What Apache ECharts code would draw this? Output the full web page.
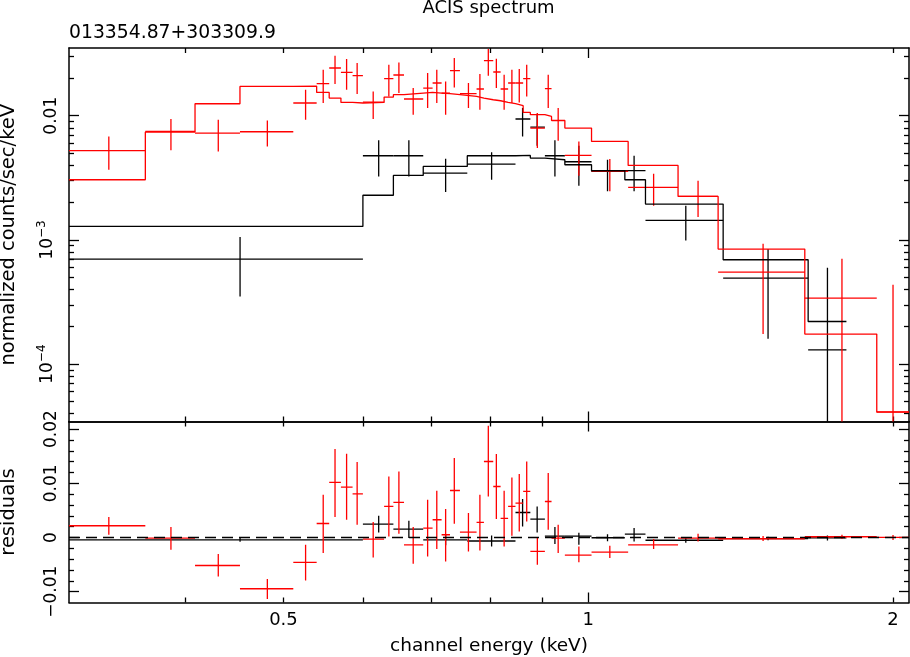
<!DOCTYPE html>
<html>
<head>
<meta charset="utf-8">
<title>ACIS spectrum</title>
<script src="https://cdn.jsdelivr.net/npm/echarts@6/dist/echarts.min.js"></script>
<style>
  html, body { margin: 0; padding: 0; background: #fff; }
  #chart { width: 910px; height: 657px; }
</style>
</head>
<body>
<div id="chart"></div>
<script>
// data group 1 (black): channel bins in keV, rate in counts/sec/keV
const blackE = [0.453, 0.6209, 0.665, 0.723, 0.8027, 0.8613, 0.8903, 0.927, 0.9789, 1.0448, 1.1099, 1.2484, 1.5052, 1.7229];
const blackLo = [0.307, 0.599, 0.642, 0.6871, 0.7595, 0.8475, 0.8766, 0.9061, 0.9482, 1.0075, 1.0868, 1.139, 1.3591, 1.6489];
const blackHi = [0.599, 0.642, 0.6871, 0.7595, 0.8475, 0.8766, 0.9061, 0.9482, 1.0075, 1.0868, 1.139, 1.3591, 1.6489, 1.7989];
const blackRate = [7.01e-4, 4.76e-3, 4.76e-3, 3.455e-3, 4.083e-3, 9.41e-3, 8.08e-3, 4.76e-3, 4.26e-3, 3.56e-3, 3.61e-3, 1.434e-3, 4.93e-4, 1.30e-4];
const blackRateLo = [3.5e-4, 3.24e-3, 3.24e-3, 2.43e-3, 3.05e-3, 6.81e-3, 5.73e-3, 3.24e-3, 2.73e-3, 2.46e-3, 2.46e-3, 9.9e-4, 1.6e-4, 1e-7];
const blackRateHi = [1.054e-3, 6.35e-3, 6.35e-3, 4.5e-3, 5.08e-3, 1.153e-2, 1.038e-2, 6.35e-3, 5.73e-3, 4.42e-3, 4.76e-3, 1.884e-3, 8.44e-4, 5.97e-4];
const blackModel = [1.283e-3, 2.289e-3, 3.304e-3, 3.905e-3, 4.763e-3, 4.79e-3, 4.563e-3, 4.421e-3, 4.03e-3, 3.606e-3, 3.051e-3, 1.944e-3, 6.92e-4, 2.203e-4];
const blackResid = [-4.5e-4, 2.47e-3, 1.55e-3, -4.5e-4, -6.5e-4, 4.61e-3, 3.39e-3, 2.5e-4, 2.3e-4, -5e-5, 6.3e-4, -5.1e-4, -2e-4, -9e-5];
const blackResidLo = [-8e-4, 9.2e-4, -1.1e-4, -1.45e-3, -1.65e-3, 2.03e-3, 9.2e-4, -1.22e-3, -1.35e-3, -7e-4, -7.4e-4, -9.6e-4, -5.3e-4, -5.6e-4];
const blackResidHi = [-1e-4, 4e-3, 3.08e-3, 5.5e-4, 3.5e-4, 7.08e-3, 5.72e-3, 1.92e-3, 8.7e-4, 6e-4, 1.73e-3, -6e-5, 1.3e-4, 3.8e-4];

// data group 2 (red)
const redE = [0.3361, 0.3871, 0.4311, 0.482, 0.5258, 0.5473, 0.5622, 0.5772, 0.5912, 0.6132, 0.6354, 0.6501, 0.6716, 0.694, 0.7086, 0.723, 0.7374, 0.7615, 0.7816, 0.7967, 0.8114, 0.8259, 0.8406, 0.8548, 0.8694, 0.8907, 0.913, 0.9339, 0.9789, 1.0503, 1.1603, 1.2837, 1.4883, 1.7807, 2.0];
const redLo = [0.307, 0.3652, 0.4089, 0.4529, 0.5113, 0.5392, 0.5548, 0.5698, 0.5851, 0.599, 0.6286, 0.642, 0.6577, 0.6871, 0.7019, 0.7164, 0.7302, 0.7469, 0.7757, 0.7888, 0.8057, 0.8193, 0.8334, 0.8475, 0.8624, 0.8766, 0.9061, 0.9199, 0.9482, 1.0075, 1.095, 1.2266, 1.3436, 1.6364, 1.9274];
const redHi = [0.3652, 0.4089, 0.4529, 0.5113, 0.5392, 0.5548, 0.5698, 0.5851, 0.599, 0.6286, 0.642, 0.6577, 0.6871, 0.7019, 0.7164, 0.7302, 0.7469, 0.7757, 0.7888, 0.8057, 0.8193, 0.8334, 0.8475, 0.8624, 0.8766, 0.9061, 0.9199, 0.9482, 1.0075, 1.095, 1.2266, 1.3436, 1.6364, 1.9274, 2.074];
const redRate = [5.23e-3, 7.47e-3, 7.25e-3, 7.43e-3, 1.266e-2, 1.811e-2, 2.422e-2, 2.233e-2, 2.101e-2, 1.289e-2, 1.986e-2, 2.128e-2, 1.363e-2, 1.671e-2, 1.834e-2, 1.523e-2, 2.304e-2, 1.504e-2, 1.641e-2, 2.773e-2, 2.249e-2, 1.641e-2, 1.834e-2, 1.834e-2, 1.986e-2, 7.96e-3, 1.65e-2, 9.12e-3, 4.79e-3, 3.56e-3, 2.645e-3, 2.239e-3, 5.51e-4, 3.4e-4, 4.13e-5];
const redRateLo = [3.67e-3, 5.26e-3, 5.16e-3, 5.66e-3, 9.29e-3, 1.266e-2, 1.8e-2, 1.62e-2, 1.495e-2, 9.41e-3, 1.43e-2, 1.523e-2, 1.019e-2, 1.153e-2, 1.266e-2, 1.019e-2, 1.69e-2, 1.153e-2, 1.117e-2, 2.101e-2, 1.671e-2, 1.117e-2, 1.266e-2, 1.279e-2, 1.43e-2, 5.49e-3, 1.153e-2, 6.29e-3, 3.29e-3, 2.46e-3, 1.884e-3, 1.528e-3, 1.744e-4, 1e-7, 1e-7];
const redRateHi = [6.81e-3, 9.41e-3, 9.29e-3, 9.17e-3, 1.62e-2, 2.347e-2, 3.043e-2, 2.862e-2, 2.657e-2, 1.569e-2, 2.575e-2, 2.687e-2, 1.671e-2, 2.207e-2, 2.347e-2, 1.889e-2, 2.916e-2, 1.834e-2, 2.168e-2, 3.45e-2, 2.878e-2, 2.14e-2, 2.347e-2, 2.378e-2, 2.575e-2, 1.051e-2, 2.14e-2, 1.153e-2, 6.21e-3, 4.48e-3, 3.41e-3, 2.995e-3, 9.31e-4, 7.05e-4, 4.35e-4];
const redModel = [3.051e-3, 7.389e-3, 1.249e-2, 1.722e-2, 1.728e-2, 1.54e-2, 1.388e-2, 1.279e-2, 1.266e-2, 1.279e-2, 1.414e-2, 1.476e-2, 1.523e-2, 1.54e-2, 1.523e-2, 1.504e-2, 1.476e-2, 1.43e-2, 1.388e-2, 1.345e-2, 1.32e-2, 1.279e-2, 1.249e-2, 1.204e-2, 1.063e-2, 1.019e-2, 9.87e-3, 9.166e-3, 7.96e-3, 6.209e-3, 3.978e-3, 2.239e-3, 8.44e-4, 1.744e-4, 4.104e-5];
const redResid = [2.16e-3, -1.1e-4, -5.17e-3, -9.46e-3, -4.61e-3, 2.58e-3, 1.015e-2, 9.3e-3, 8.06e-3, -3e-4, 5.72e-3, 6.46e-3, -1.35e-3, 1.73e-3, 3.27e-3, 5e-4, 8.67e-3, 1e-3, 2.77e-3, 1.402e-2, 9.41e-3, 3.51e-3, 5.72e-3, 6.35e-3, 8.49e-3, -2.58e-3, 6.64e-3, -1.1e-4, -3.25e-3, -2.69e-3, -1.35e-3, -1.1e-4, -2.4e-4, 1.3e-4, 0];
const redResidLo = [5e-4, -2.27e-3, -7.2e-3, -1.137e-2, -7.93e-3, -2.88e-3, 3.76e-3, 3.27e-3, 2.34e-3, -3.69e-3, 1.8e-4, 6.8e-4, -4.85e-3, -3.51e-3, -2.14e-3, -4.43e-3, 2.53e-3, -2.58e-3, -2.4e-3, 7.56e-3, 3.39e-3, -1.66e-3, 3.1e-4, 1.11e-3, 2.95e-3, -5.04e-3, 1.42e-3, -2.88e-3, -4.58e-3, -3.8e-3, -2.14e-3, -7.4e-4, -6.6e-4, -3e-4, -4.5e-4];
const redResidHi = [3.76e-3, 1.92e-3, -3.06e-3, -7.68e-3, -1.35e-3, 7.88e-3, 1.631e-2, 1.544e-2, 1.391e-2, 2.84e-3, 1.125e-2, 1.218e-2, 1.92e-3, 6.96e-3, 8.62e-3, 5.24e-3, 1.465e-2, 4.5e-3, 7.88e-3, 2.06e-2, 1.539e-2, 8.62e-3, 1.107e-2, 1.17e-2, 1.402e-2, -1.1e-4, 1.188e-2, 2.34e-3, -1.66e-3, -1.53e-3, -3e-4, 6.8e-4, 2.6e-4, 5e-4, 4.5e-4];

// ticks and tick labels
const xMajorTicks = [1];
const xMinorTicks = [0.4, 0.5, 0.6, 0.7, 0.8, 0.9, 2];
const xLabels = [0.5, 1, 2];
const yMajorTicks = [1e-4, 1e-3, 1e-2];
const yMinorTicks = [4e-5, 5e-5, 6e-5, 7e-5, 8e-5, 9e-5, 2e-4, 3e-4, 4e-4, 5e-4, 6e-4, 7e-4, 8e-4, 9e-4,
  2e-3, 3e-3, 4e-3, 5e-3, 6e-3, 7e-3, 8e-3, 9e-3, 2e-2, 3e-2];
const yLabelText = ['10{sup|\u22124}', '10{sup|\u22123}', '0.01'];
const residMajorTicks = [-0.01, 0, 0.01, 0.02];
const residMinorTicks = [-0.008, -0.006, -0.004, -0.002, 0.002, 0.004, 0.006, 0.008, 0.012, 0.014, 0.016, 0.018];
const residLabelText = ['\u22120.01', '0', '0.01', '0.02'];

const FONT = 'DejaVu Sans';
const X_RANGE = [0.307, 2.074];
const Y_RANGE = [3.45e-5, 0.0351];
const R_RANGE = [-0.012, 0.0214];

var chart = echarts.init(document.getElementById('chart'));

// one axis that only draws a set of inward ticks (XSPEC draws ticks on all four sides)
function tickAxis(gridIndex, position, type, range, ticks, len, showLine) {
  return {
    type: type,
    gridIndex: gridIndex,
    position: position,
    min: range[0],
    max: range[1],
    axisLine: { show: showLine, onZero: false, lineStyle: { color: '#000', width: 1.5 } },
    axisTick: { show: true, inside: true, length: len, customValues: ticks, lineStyle: { color: '#000', width: 1.3 } },
    axisLabel: { show: false },
    splitLine: { show: false },
    minorTick: { show: false }
  };
}

function closest(list, v) {
  let best = 0;
  list.forEach((t, i) => { if (Math.abs(t - v) < Math.abs(list[best] - v)) best = i; });
  return best;
}

const xAxes = [
  tickAxis(0, 'bottom', 'log', X_RANGE, xMajorTicks, 10, true),
  tickAxis(0, 'bottom', 'log', X_RANGE, xMinorTicks, 5, false),
  tickAxis(0, 'top', 'log', X_RANGE, xMajorTicks, 10, true),
  tickAxis(0, 'top', 'log', X_RANGE, xMinorTicks, 5, false),
  tickAxis(1, 'bottom', 'log', X_RANGE, xMajorTicks, 10, true),
  tickAxis(1, 'bottom', 'log', X_RANGE, xMinorTicks, 5, false),
  tickAxis(1, 'top', 'log', X_RANGE, xMajorTicks, 10, true),
  tickAxis(1, 'top', 'log', X_RANGE, xMinorTicks, 5, false)
];
xAxes[4].axisLabel = {
  show: true, customValues: xLabels, margin: 9, color: '#000', fontSize: 18, fontFamily: FONT,
  formatter: v => String(xLabels[closest(xLabels, v)])
};
xAxes[4].name = 'channel energy (keV)';
xAxes[4].nameLocation = 'middle';
xAxes[4].nameGap = 34;
xAxes[4].nameTextStyle = { color: '#000', fontSize: 18.5, fontFamily: FONT };

const yAxes = [
  tickAxis(0, 'left', 'log', Y_RANGE, yMajorTicks, 10, true),
  tickAxis(0, 'left', 'log', Y_RANGE, yMinorTicks, 5, false),
  tickAxis(0, 'right', 'log', Y_RANGE, yMajorTicks, 10, true),
  tickAxis(0, 'right', 'log', Y_RANGE, yMinorTicks, 5, false),
  tickAxis(1, 'left', 'value', R_RANGE, residMajorTicks, 10, true),
  tickAxis(1, 'left', 'value', R_RANGE, residMinorTicks, 5, false),
  tickAxis(1, 'right', 'value', R_RANGE, residMajorTicks, 10, true),
  tickAxis(1, 'right', 'value', R_RANGE, residMinorTicks, 5, false)
];
yAxes[0].axisLabel = {
  show: true, customValues: yMajorTicks, rotate: 90, margin: 9, color: '#000', fontSize: 17, fontFamily: FONT,
  formatter: v => yLabelText[closest(yMajorTicks, v)],
  rich: { sup: { fontSize: 12, fontFamily: FONT, color: '#000', padding: [0, 0, 12, 0] } }
};
yAxes[0].name = 'normalized counts/sec/keV';
yAxes[4].axisLabel = {
  show: true, customValues: residMajorTicks, rotate: 90, margin: 9, color: '#000', fontSize: 17, fontFamily: FONT,
  formatter: v => residLabelText[closest(residMajorTicks, v)]
};
yAxes[4].name = 'residuals';
[yAxes[0], yAxes[4]].forEach(a => {
  a.nameLocation = 'middle';
  a.nameGap = 50;
  a.nameRotate = 90;
  a.nameTextStyle = { color: '#000', fontSize: 19.5, fontFamily: FONT };
});

// data cross: horizontal bar over the channel bin, vertical bar over the error
function crossRenderer(color) {
  return function (params, api) {
    const y = api.value(3);
    const p1 = api.coord([api.value(1), y]);
    const p2 = api.coord([api.value(2), y]);
    const q1 = api.coord([api.value(0), api.value(4)]);
    const q2 = api.coord([api.value(0), api.value(5)]);
    const style = { stroke: color, lineWidth: 1.3 };
    return {
      type: 'group',
      children: [
        { type: 'line', shape: { x1: p1[0], y1: p1[1], x2: p2[0], y2: p2[1] }, style: style },
        { type: 'line', shape: { x1: q1[0], y1: q1[1], x2: q2[0], y2: q2[1] }, style: style }
      ]
    };
  };
}

function crossSeries(color, axisIndex, e, lo, hi, v, vLo, vHi) {
  return {
    type: 'custom',
    xAxisIndex: axisIndex,
    yAxisIndex: axisIndex,
    clip: true,
    silent: true,
    renderItem: crossRenderer(color),
    encode: { x: [0, 1, 2], y: [3, 4, 5] },
    data: e.map((x, i) => [x, lo[i], hi[i], v[i], vLo[i], vHi[i]])
  };
}

function modelSeries(color, lo, hi, model) {
  const pts = lo.map((x, i) => [x, model[i]]);
  pts.push([hi[hi.length - 1], model[model.length - 1]]);
  return {
    type: 'line',
    xAxisIndex: 0,
    yAxisIndex: 0,
    step: 'end',
    showSymbol: false,
    silent: true,
    clip: true,
    lineStyle: { color: color, width: 1.3 },
    data: pts
  };
}

const option = {
  animation: false,
  backgroundColor: '#fff',
  textStyle: { fontFamily: FONT },
  grid: [
    { left: 69, right: 1, top: 48, height: 373.5, outerBoundsMode: 'none' },
    { left: 69, right: 1, top: 421.5, bottom: 54.5, outerBoundsMode: 'none' }
  ],
  xAxis: xAxes,
  yAxis: yAxes,
  graphic: [
    { type: 'text', x: 488.5, y: 8, silent: true,
      style: { text: 'ACIS spectrum', font: '18px "DejaVu Sans"', fill: '#000', textAlign: 'center', textVerticalAlign: 'middle', align: 'center', verticalAlign: 'middle' } },
    { type: 'text', x: 69, y: 33, silent: true,
      style: { text: '013354.87+303309.9', font: '18.8px "DejaVu Sans"', fill: '#000', textAlign: 'left', textVerticalAlign: 'middle', align: 'left', verticalAlign: 'middle' } }
  ],
  series: [
    modelSeries('#000', blackLo, blackHi, blackModel),
    crossSeries('#000', 0, blackE, blackLo, blackHi, blackRate, blackRateLo, blackRateHi),
    modelSeries('#ff0000', redLo, redHi, redModel),
    crossSeries('#ff0000', 0, redE, redLo, redHi, redRate, redRateLo, redRateHi),
    Object.assign(crossSeries('#000', 4, blackE, blackLo, blackHi, blackResid, blackResidLo, blackResidHi), {
      markLine: {
        silent: true,
        symbol: 'none',
        label: { show: false },
        lineStyle: { color: '#000', width: 1.3, type: [11, 6] },
        data: [{ yAxis: 0 }]
      }
    }),
    crossSeries('#ff0000', 4, redE, redLo, redHi, redResid, redResidLo, redResidHi)
  ]
};

chart.setOption(option);
</script>
</body>
</html>
